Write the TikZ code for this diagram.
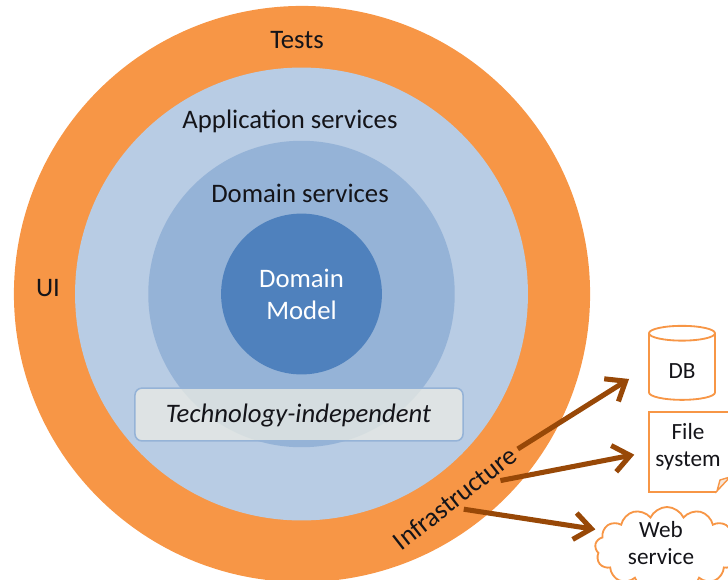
\documentclass[tikz,border=0pt]{standalone}
\usepackage{fontspec}
\setmainfont{Carlito}
\usepackage{xcolor}
\usetikzlibrary{shapes.geometric, shapes.symbols, arrows.meta, positioning}
\definecolor{ringorange}{RGB}{247, 150, 70}
\definecolor{ringpale}{RGB}{184, 204, 228}
\definecolor{ringmid}{RGB}{149, 179, 215}
\definecolor{ringcore}{RGB}{79, 129, 189}
\definecolor{arrowbrown}{RGB}{152, 72, 7}
\definecolor{labelink}{RGB}{20, 20, 25}

\begin{document}
\begin{tikzpicture}[
    x=0.025cm, y=-0.025cm,
    ring/.style={circle, inner sep=0pt},
    label/.style={font=\fontsize{19}{22.8}\selectfont, text=labelink, align=center},
    small/.style={font=\fontsize{16.5}{19.2}\selectfont, text=labelink, align=center},
    store/.style={draw=ringorange, line width=1.3pt, fill=white, small},
    link/.style={draw=arrowbrown, line width=3.6pt, -{Straight Barb[length=12pt, width=19pt, line width=3.6pt]}}
]
\useasboundingbox (0,0) rectangle (728,579);

% Rings
\node[ring, fill=ringorange, minimum size=14.4cm] (outer) at (302,294) {};
\node[ring, fill=ringpale, minimum size=11.32cm] (app) at (301.5,294) {};
\node[ring, fill=ringmid, minimum size=7.66cm] (dom) at (301.5,294) {};
\node[ring, fill=ringcore, minimum size=4.02cm, label, text=white] (core) at (301.5,294) {Domain\\Model};

% Ring labels
\node[label] (tests) at (297,40) {Tests};
\node[label] (ui) at (48,288) {UI};
\node[label] (appl) at (290,121) {Application services};
\node[label] (doml) at (300,193) {Domain services};
\node[label, rotate=38] (infra) at (455,498) {Infrastructure};

% Banner
\node[draw=ringmid, line width=1.1pt, fill={rgb,255:red,235;green,236;blue,228}, fill opacity=0.75,
      text opacity=1, rounded corners=5pt, minimum width=8.2cm, minimum height=1.32cm,
      label, font=\fontsize{19}{22.8}\selectfont\itshape] (tech) at (299,414.5) {};
\node[label, font=\fontsize{19}{22.8}\selectfont\itshape] (techl) at (298.5,416) {Technology-independent};

% Stores
\node[store, cylinder, shape border rotate=90, aspect=0.55, minimum width=1.65cm, minimum height=1.85cm,
      inner sep=0pt] (db) at (682,367) {\phantom{DB}};
\node[small] (dbl) at (682,371) {DB};
\node[store, rectangle, minimum width=2.05cm, minimum height=2cm, inner sep=0pt] (file) at (690,452) {};
\node[small] (filel) at (688,447) {File\\system};
\fill[white] (716,494) -- (716,490) -- (732,475) -- (732,494) -- cycle;
\draw[ringorange, line width=1pt, fill=ringpale!40!ringorange!30] (717,491) -- (720,480) -- (730,477) -- cycle;
\node[store, cloud, cloud puffs=13, cloud puff arc=130, aspect=1.7, minimum width=3.6cm, minimum height=2.1cm,
      inner sep=0pt] (web) at (667,549) {};
\node[small] (webl) at (661,543.5) {Web\\service};

% Arrows
\draw[link, shorten >=16pt] (infra.east) -- (db.west);
\draw[link, shorten >=10pt] (infra.-17) -- (file.west);
\draw[link, shorten >=5pt] (infra.south) -- (web.164);

\end{tikzpicture}
\end{document}
